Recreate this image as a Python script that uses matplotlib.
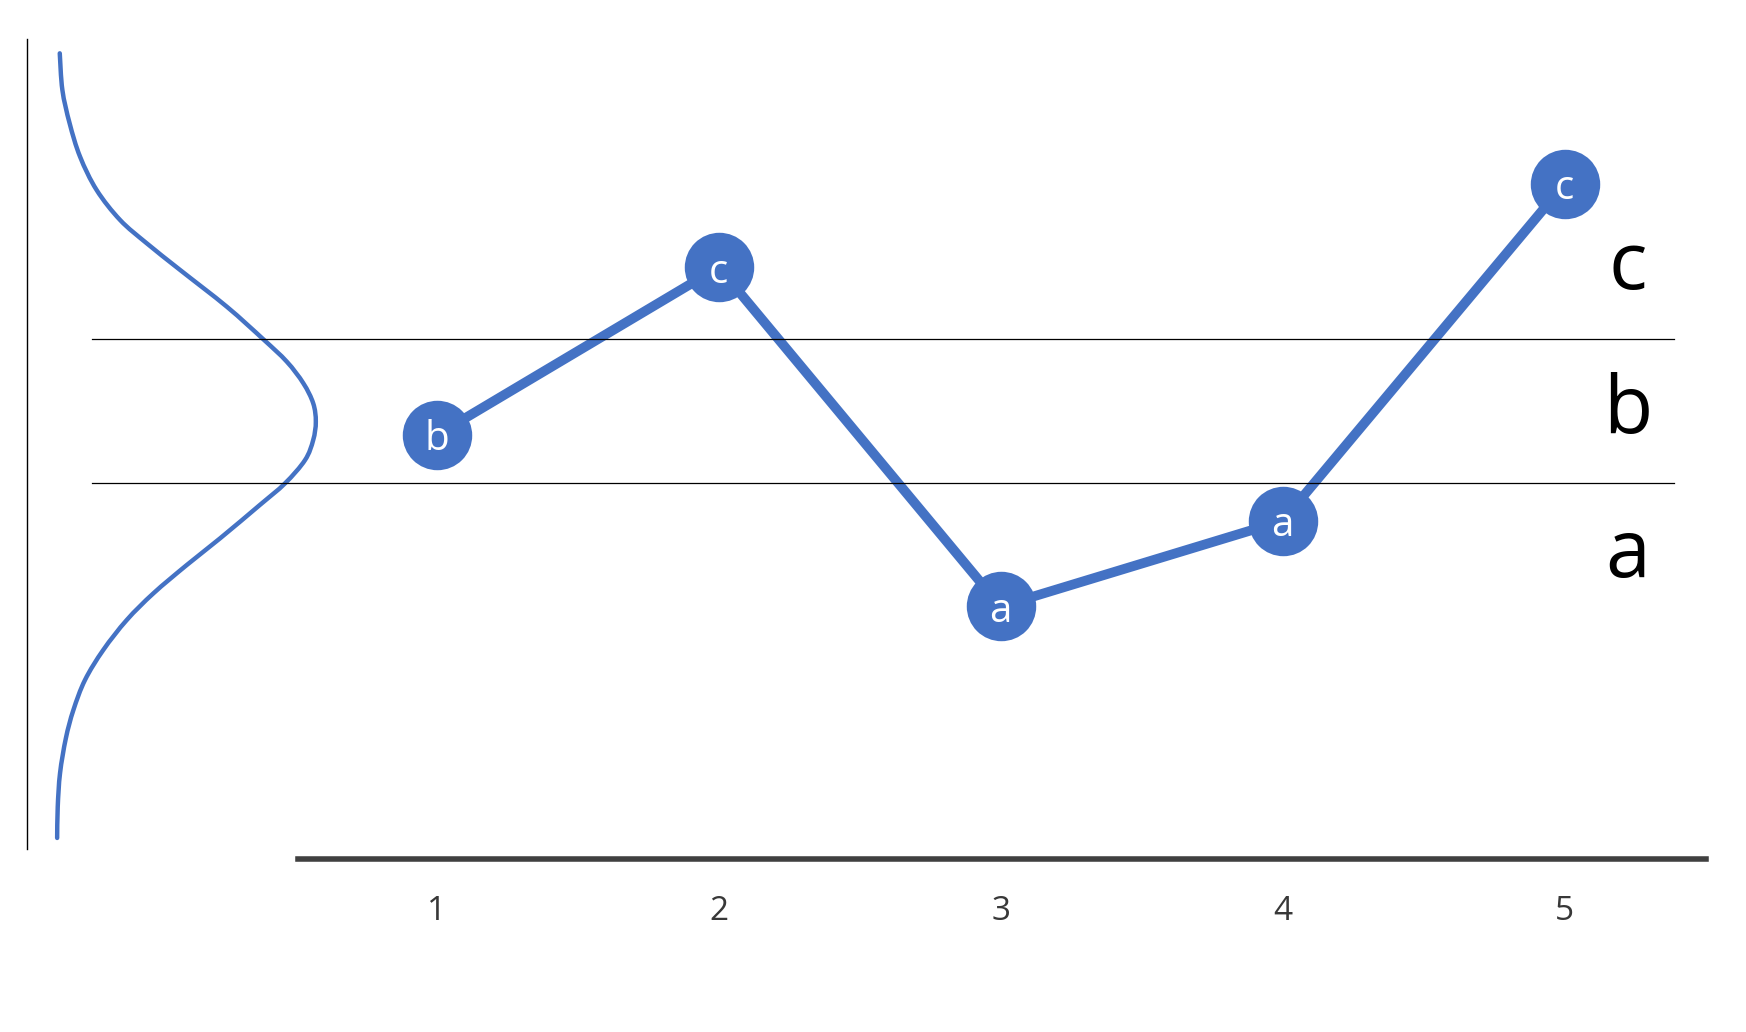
import matplotlib.pyplot as plt
from matplotlib.path import Path
from matplotlib.patches import PathPatch

plt.rcParams['font.family'] = ['Open Sans', 'DejaVu Sans']

BLUE = '#4472C4'
GREY = '#404040'

# the path of the series
x_pos = [1, 2, 3, 4, 5]
values = [4.67, 7.0, 2.29, 3.48, 8.16]
point_labels = ['b', 'c', 'a', 'a', 'c']
tick_labels = ['1', '2', '3', '4', '5']

# category bands
thresholds = [4, 6]
band_names = ['a', 'b', 'c']
band_centers = [3, 5, 7]

# bell curve on the left (density, value)
bell_density = [0.113, 0.122, 0.147, 0.183, 0.240, 0.321, 0.413, 0.528,
                0.689, 0.815, 0.896, 0.953, 0.987, 0.996, 0.987, 0.959,
                0.890, 0.803, 0.666, 0.551, 0.436, 0.344, 0.263, 0.200,
                0.160, 0.134, 0.114, 0.106, 0.104]
bell_y = [9.972, 9.463, 9.000, 8.536, 8.074, 7.657, 7.333, 6.963,
          6.453, 6.000, 5.689, 5.389, 5.111, 4.856, 4.601, 4.324,
          4.000, 3.699, 3.236, 2.865, 2.472, 2.101, 1.685, 1.268,
          0.851, 0.458, -0.024, -0.492, -0.926]

W, H = 1746, 1032
fig = plt.figure(figsize=(W / 100, H / 100), dpi=100)

# main axes: the series with the bottom axis line
ax = fig.add_axes([298 / W, (H - 858.5) / H, (1706 - 298) / W, 858.5 / H])
ax.set_xlim(0.5082, 5.5011)
ax.set_ylim(-1.211, 10.7125)
ax.patch.set_visible(False)
for side in ['top', 'left', 'right']:
    ax.spines[side].set_visible(False)
ax.spines['bottom'].set_color(GREY)
ax.spines['bottom'].set_linewidth(4)
ax.set_yticks([])
ax.set_xticks(x_pos)
ax.set_xticklabels(tick_labels, fontsize=24, color='#383838')
ax.tick_params(axis='x', length=0, pad=26)

ax.plot(x_pos, values, '-o', color=BLUE, lw=7, ms=50, mew=0,
        solid_capstyle='round')
for x, y, lab in zip(x_pos, values, point_labels):
    ax.text(x, y, lab, color='white', fontsize=29, ha='center',
            va='center_baseline')

for name, yc in zip(band_names, band_centers):
    ax.text(5.224, yc, name, fontsize=58, ha='center', va='center')

# overlay axes: thresholds, bell curve and its axis
ax_bg = fig.add_axes([0, 0, 1, 1])
ax_bg.set_zorder(2)
ax_bg.patch.set_visible(False)
ax_bg.set_xlim(-0.0931, 5.928)
ax_bg.set_ylim(-3.621, 10.7125)
ax_bg.axis('off')

for t in thresholds:
    ax_bg.axhline(t, xmin=92 / W, xmax=1674 / W, color='black', lw=0.9)
ax_bg.axvline(0, ymin=(H - 849) / H, ymax=(H - 39) / H, color='black', lw=1.0)

# smooth bezier path through the read points
pts = list(zip(bell_density, bell_y))
verts = [pts[0]]
codes = [Path.MOVETO]
for i in range(len(pts) - 1):
    p0 = pts[i - 1] if i > 0 else pts[i]
    p1, p2 = pts[i], pts[i + 1]
    p3 = pts[i + 2] if i + 2 < len(pts) else p2
    c1 = (p1[0] + (p2[0] - p0[0]) / 6, p1[1] + (p2[1] - p0[1]) / 6)
    c2 = (p2[0] - (p3[0] - p1[0]) / 6, p2[1] - (p3[1] - p1[1]) / 6)
    verts += [c1, c2, p2]
    codes += [Path.CURVE4] * 3
ax_bg.add_patch(PathPatch(Path(verts, codes), facecolor='none',
                          edgecolor=BLUE, lw=3.2, capstyle='round'))

fig.savefig('out.png', dpi=100)
